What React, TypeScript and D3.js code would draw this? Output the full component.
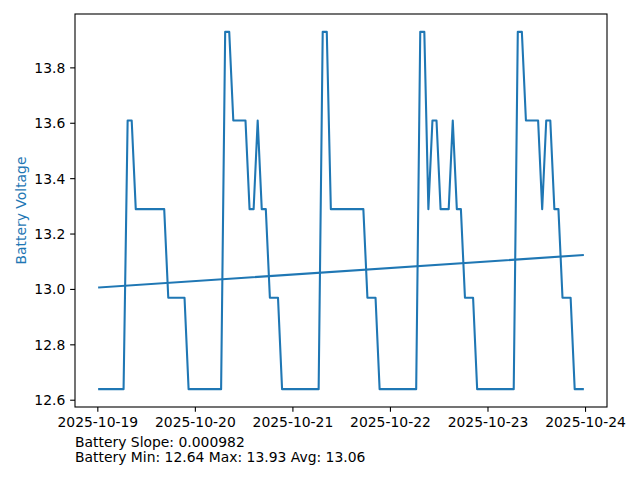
import React from "react";
import * as d3 from "d3";

// Hourly battery voltage readings starting 2025-10-19 00:20
const startTime = "2025-10-19T00:20:00";
const voltages: number[] = [
  12.64, 12.64, 12.64, 12.64, 12.64, 12.64, 12.64,
  13.61, 13.61,
  13.29, 13.29, 13.29, 13.29, 13.29, 13.29, 13.29, 13.29,
  12.97, 12.97, 12.97, 12.97, 12.97,
  12.64, 12.64, 12.64, 12.64, 12.64, 12.64, 12.64, 12.64, 12.64,
  13.93, 13.93,
  13.61, 13.61, 13.61, 13.61,
  13.29, 13.29,
  13.61,
  13.29, 13.29,
  12.97, 12.97, 12.97,
  12.64, 12.64, 12.64, 12.64, 12.64, 12.64, 12.64, 12.64, 12.64, 12.64,
  13.93, 13.93,
  13.29, 13.29, 13.29, 13.29, 13.29, 13.29, 13.29, 13.29, 13.29,
  12.97, 12.97, 12.97,
  12.64, 12.64, 12.64, 12.64, 12.64, 12.64, 12.64, 12.64, 12.64, 12.64,
  13.93, 13.93,
  13.29,
  13.61, 13.61,
  13.29, 13.29, 13.29,
  13.61,
  13.29, 13.29,
  12.97, 12.97, 12.97,
  12.64, 12.64, 12.64, 12.64, 12.64, 12.64, 12.64, 12.64, 12.64, 12.64,
  13.93, 13.93,
  13.61, 13.61, 13.61, 13.61,
  13.29,
  13.61, 13.61,
  13.29, 13.29,
  12.97, 12.97, 12.97,
  12.64, 12.64, 12.64,
];
const trendValues: number[] = [13.007, 13.124];
const xTickLabels: string[] = [
  "2025-10-19", "2025-10-20", "2025-10-21", "2025-10-22", "2025-10-23", "2025-10-24",
];
const yTickValues: number[] = [12.6, 12.8, 13.0, 13.2, 13.4, 13.6, 13.8];
const yLabel = "Battery Voltage";
const infoLines: string[] = [
  "Battery Slope: 0.000982",
  "Battery Min: 12.64 Max: 13.93 Avg: 13.06",
];

const W = 640;
const H = 480;
const left = 75;
const right = 607;
const top = 14;
const bottom = 407;
const color = "#1f77b4";
const font = "DejaVu Sans, sans-serif";
const fs = 13.9;

export default function App() {
  const t0 = new Date(startTime).getTime();
  const hour = 3600 * 1000;
  const pts = voltages.map((v, i) => ({ t: new Date(t0 + i * hour), v }));
  const tMin = pts[0].t.getTime();
  const tMax = pts[pts.length - 1].t.getTime();
  const span = tMax - tMin;
  const x = d3
    .scaleTime()
    .domain([new Date(tMin - 0.05 * span), new Date(tMax + 0.05 * span)])
    .range([left, right]);
  const vMin = d3.min(voltages)!;
  const vMax = d3.max(voltages)!;
  const vs = vMax - vMin;
  const y = d3
    .scaleLinear()
    .domain([vMin - 0.05 * vs, vMax + 0.05 * vs])
    .range([bottom, top]);

  const line = d3
    .line<{ t: Date; v: number }>()
    .x((d) => x(d.t))
    .y((d) => y(d.v));
  const trendPts = [
    { t: pts[0].t, v: trendValues[0] },
    { t: pts[pts.length - 1].t, v: trendValues[1] },
  ];
  const xTicks = xTickLabels.map((s) => ({ d: new Date(s + "T00:00:00"), s }));
  const tickLen = 4.86;

  return (
    <svg
      width={W}
      height={H}
      style={{ position: "absolute", left: 0, top: 0, background: "#fff" }}
      fontFamily={font}
    >
      <rect x={0} y={0} width={W} height={H} fill="#fff" />
      <path d={line(pts)!} fill="none" stroke={color} strokeWidth={2.08} strokeLinejoin="round" strokeLinecap="square" />
      <path d={line(trendPts)!} fill="none" stroke={color} strokeWidth={2.08} strokeLinecap="square" />
      <rect x={left} y={top} width={right - left} height={bottom - top} fill="none" stroke="#000" strokeWidth={1.1} />
      {xTicks.map((tk) => (
        <g key={tk.s} transform={`translate(${x(tk.d)},${bottom})`}>
          <line y1={0} y2={tickLen} stroke="#000" strokeWidth={1.1} />
          <text y={tickLen + 4.86 + fs * 0.76} textAnchor="middle" fontSize={fs} fill="#000">
            {tk.s}
          </text>
        </g>
      ))}
      {yTickValues.map((v) => (
        <g key={v} transform={`translate(${left},${y(v)})`}>
          <line x1={0} x2={-tickLen} stroke="#000" strokeWidth={1.1} />
          <text x={-tickLen - 4.86} dy="0.36em" textAnchor="end" fontSize={fs} fill="#000">
            {v.toFixed(1)}
          </text>
        </g>
      ))}
      <text
        transform={`translate(26,${(top + bottom) / 2}) rotate(-90)`}
        textAnchor="middle"
        fontSize={fs}
        fill={color}
      >
        {yLabel}
      </text>
      {infoLines.map((s, i) => (
        <text key={s} x={left} y={446.5 + i * 15.5} fontSize={fs} fill="#000">
          {s}
        </text>
      ))}
    </svg>
  );
}
